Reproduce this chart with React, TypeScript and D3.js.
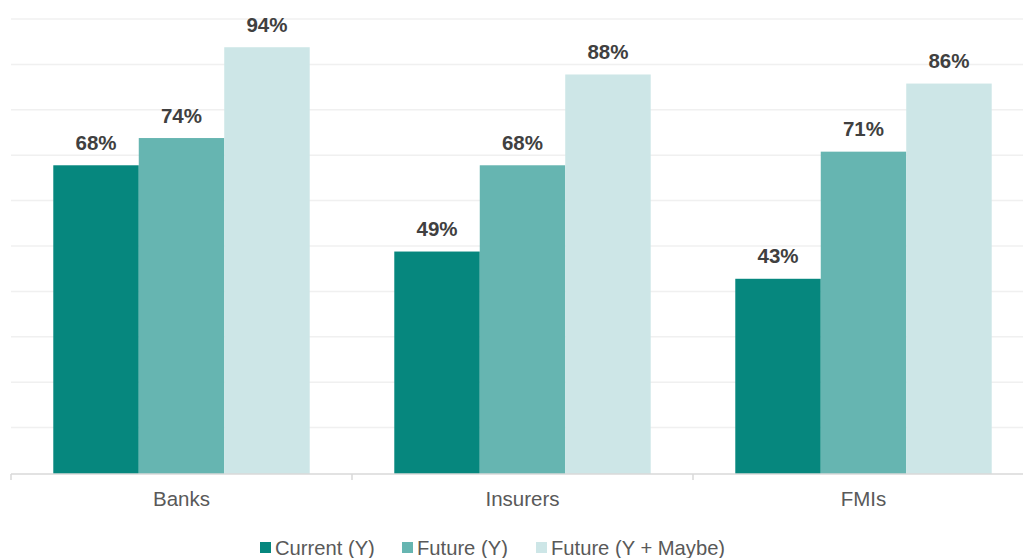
import React from "react";
import * as d3 from "d3";

const categories = ["Banks", "Insurers", "FMIs"];
const seriesNames = ["Current (Y)", "Future (Y)", "Future (Y + Maybe)"];
const currentY = [68, 49, 43];
const futureY = [74, 68, 71];
const futureMaybe = [94, 88, 86];
const gridTicks = [10, 20, 30, 40, 50, 60, 70, 80, 90, 100];
const colors = ["#06877e", "#66b5b1", "#cde6e7"];

const W = 1023;
const H = 558;

export default function App() {
  const series = [currentY, futureY, futureMaybe];
  const x0 = d3.scaleBand<string>().domain(categories).range([11, 1034]).paddingInner(0).paddingOuter(0);
  const inner = 0.124;
  const x1 = d3
    .scaleBand<string>()
    .domain(seriesNames)
    .range([x0.bandwidth() * inner, x0.bandwidth() * (1 - inner)])
    .padding(0);
  const y = d3.scaleLinear().domain([0, 100]).range([474, 20]);
  const font = "'Liberation Sans', Arial, sans-serif";

  const legendX = [260, 402, 536];

  return (
    <svg
      width={W}
      height={H}
      style={{ position: "absolute", left: 0, top: 0, background: "#fff" }}
      fontFamily={font}
    >
      {gridTicks.map((t) => (
        <line key={t} x1={11} x2={W} y1={y(t) - 1} y2={y(t) - 1} stroke="#f0f0f0" strokeWidth={1.5} />
      ))}
      {categories.map((c, ci) => (
        <g key={c} transform={`translate(${x0(c)},0)`}>
          {seriesNames.map((s, si) => {
            const v = series[si][ci];
            const bx = x1(s)!;
            return (
              <g key={s}>
                <rect x={bx} y={y(v)} width={x1.bandwidth()} height={y(0) - y(v)} fill={colors[si]} />
                <text
                  x={bx + x1.bandwidth() / 2}
                  y={y(v) - 15.5}
                  textAnchor="middle"
                  fontWeight="bold"
                  fontSize={20.5}
                  fill="#404040"
                >
                  {v}%
                </text>
              </g>
            );
          })}
          <text x={x0.bandwidth() / 2} y={506} textAnchor="middle" fontSize={20.5} fill="#595959">
            {c}
          </text>
        </g>
      ))}
      <line x1={11} x2={W} y1={474} y2={474} stroke="#d9d9d9" strokeWidth={1.5} />
      {categories.map((c) => (
        <line key={c} x1={x0(c)!} x2={x0(c)!} y1={474} y2={480} stroke="#d9d9d9" strokeWidth={1.5} />
      ))}
      {seriesNames.map((s, i) => (
        <g key={s}>
          <rect x={legendX[i]} y={542} width={11} height={11} fill={colors[i]} />
          <text x={legendX[i] + 15} y={554.5} fontSize={20.2} fill="#595959">
            {s}
          </text>
        </g>
      ))}
    </svg>
  );
}
